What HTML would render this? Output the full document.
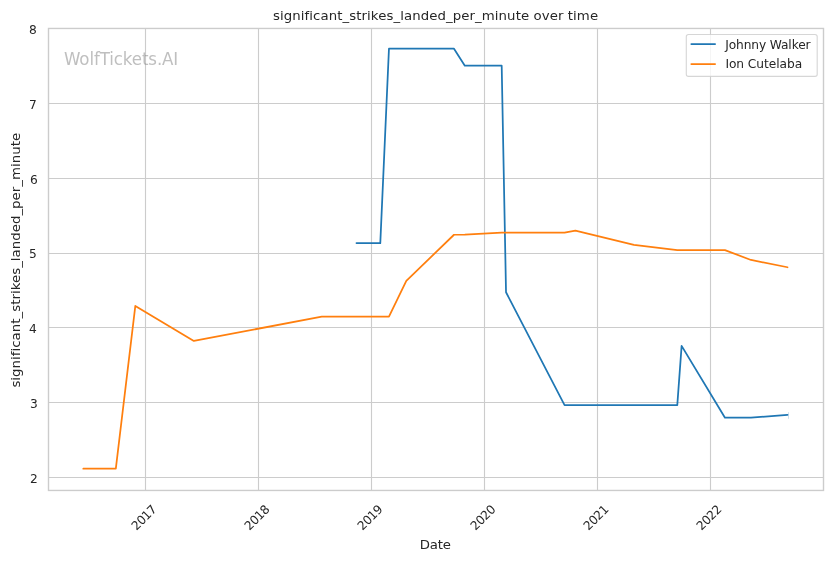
<!DOCTYPE html>
<html lang="en">
<head>
<meta charset="utf-8">
<title>significant_strikes_landed_per_minute over time</title>
<style>
html,body{margin:0;padding:0;background:#ffffff;}
body{width:832px;height:561px;overflow:hidden;}
svg{display:block;}
text{font-family:"DejaVu Sans","Liberation Sans",sans-serif;fill:#262626;font-variant-ligatures:none;font-feature-settings:"liga" 0,"clig" 0;}
.tick{font-size:12.22px;}
.lab{font-size:13.33px;}
.grid line{stroke:#cccccc;stroke-width:1.11;}
.series{fill:none;stroke-width:1.75;stroke-linejoin:round;stroke-linecap:round;}
</style>
</head>
<body>
<svg width="832" height="561" viewBox="0 0 832 561">
<rect x="0" y="0" width="832" height="561" fill="#ffffff"/>
<g class="grid">
<line x1="145.50" y1="28.45" x2="145.50" y2="490.45"/>
<line x1="258.50" y1="28.45" x2="258.50" y2="490.45"/>
<line x1="371.50" y1="28.45" x2="371.50" y2="490.45"/>
<line x1="484.50" y1="28.45" x2="484.50" y2="490.45"/>
<line x1="597.50" y1="28.45" x2="597.50" y2="490.45"/>
<line x1="710.50" y1="28.45" x2="710.50" y2="490.45"/>
<line x1="48.50" y1="103.50" x2="823.50" y2="103.50"/>
<line x1="48.50" y1="178.50" x2="823.50" y2="178.50"/>
<line x1="48.50" y1="253.50" x2="823.50" y2="253.50"/>
<line x1="48.50" y1="327.50" x2="823.50" y2="327.50"/>
<line x1="48.50" y1="402.50" x2="823.50" y2="402.50"/>
<line x1="48.50" y1="477.50" x2="823.50" y2="477.50"/>
</g>
<polyline class="series" stroke="#1f77b4" points="356.45,243.10 380.29,243.10 388.96,48.70 454.00,48.70 464.84,65.70 501.69,65.70 506.03,292.25 564.56,405.15 677.29,405.15 681.62,345.85 724.98,417.70 750.99,417.70 787.50,414.90"/>
<line x1="788.5" y1="412.2" x2="788.5" y2="418.8" stroke="#1f77b4" stroke-opacity="0.22" stroke-width="1"/>
<polyline class="series" stroke="#ff7f0e" points="83.30,468.65 115.82,468.65 135.33,305.95 193.86,340.95 321.76,316.60 388.96,316.60 406.31,280.85 454.00,234.75 464.84,234.70 501.69,232.70 564.56,232.70 575.40,230.55 633.93,244.95 677.29,250.15 724.98,250.15 750.99,259.95 787.50,267.25"/>
<rect x="48.50" y="28.45" width="775.00" height="462.00" fill="none" stroke="#cccccc" stroke-width="1.39"/>
<g class="tick">
<text transform="translate(136.50,531.00) rotate(-45)" textLength="29.7" lengthAdjust="spacing">2017</text>
<text transform="translate(249.50,531.00) rotate(-45)" textLength="29.7" lengthAdjust="spacing">2018</text>
<text transform="translate(362.50,531.00) rotate(-45)" textLength="29.7" lengthAdjust="spacing">2019</text>
<text transform="translate(475.50,531.00) rotate(-45)" textLength="29.7" lengthAdjust="spacing">2020</text>
<text transform="translate(588.50,531.00) rotate(-45)" textLength="29.7" lengthAdjust="spacing">2021</text>
<text transform="translate(701.50,531.00) rotate(-45)" textLength="29.7" lengthAdjust="spacing">2022</text>
<text x="36.90" y="33.75" text-anchor="end">8</text>
<text x="36.90" y="108.75" text-anchor="end">7</text>
<text x="37.90" y="183.75" text-anchor="end">6</text>
<text x="36.90" y="257.75" text-anchor="end">5</text>
<text x="36.90" y="332.75" text-anchor="end">4</text>
<text x="37.90" y="407.75" text-anchor="end">3</text>
<text x="37.90" y="482.75" text-anchor="end">2</text>
</g>
<text class="lab" transform="translate(272.9,19.9) scale(1,0.9)" textLength="325.2" lengthAdjust="spacing">significant_strikes_landed_per_minute over time</text>
<text class="lab" transform="translate(419.8,548.85) scale(1,0.9)" textLength="31.1" lengthAdjust="spacing">Date</text>
<text class="lab" transform="translate(20,387.6) rotate(-90) scale(1,0.9)" textLength="254.8" lengthAdjust="spacing">significant_strikes_landed_per_minute</text>
<text transform="translate(64.0,64.9) scale(1,1.1)" font-size="16.67" style="fill:#808080;fill-opacity:0.5" textLength="114.3" lengthAdjust="spacing">WolfTickets.AI</text>
<rect x="686.3" y="34.5" width="130.9" height="41.9" rx="2.2" ry="2.2" fill="#ffffff" fill-opacity="0.8" stroke="#cccccc" stroke-width="1.11" stroke-opacity="0.8"/>
<line x1="691.3" y1="44.0" x2="715.1" y2="44.0" stroke="#1f77b4" stroke-width="1.75" stroke-linecap="round"/>
<line x1="691.3" y1="64.1" x2="715.1" y2="64.1" stroke="#ff7f0e" stroke-width="1.75" stroke-linecap="round"/>
<text class="tick" x="725.2" y="48.5" textLength="85.4" lengthAdjust="spacing">Johnny Walker</text>
<text class="tick" x="725.4" y="67.6" textLength="76.8" lengthAdjust="spacing">Ion Cutelaba</text>
</svg>
</body>
</html>
